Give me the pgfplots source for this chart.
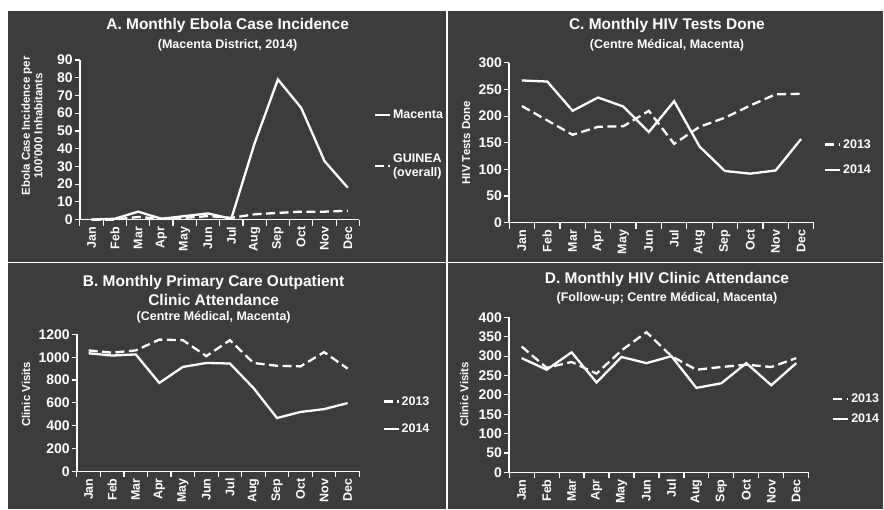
\documentclass[border=0pt]{standalone}
\usepackage{fontspec}
\setmainfont{Liberation Sans}
\usepackage{pgfplots}
\pgfplotsset{compat=1.18}
\definecolor{board}{HTML}{3C3C3C}

\pgfplotsset{
  panel/.style={
    scale only axis,
    axis lines*=left,
    axis line style={white, line width=1.4pt, -},
    xmin=0.5, xmax=12.5, ymin=0,
    xtick={1,...,12},
    xticklabels={Jan,Feb,Mar,Apr,May,Jun,Jul,Aug,Sep,Oct,Nov,Dec},
    minor xtick={0.5,1.5,...,12.5},
    major x tick style={draw=none},
    minor x tick style={white, line width=1.2pt},
    y tick style={white, line width=1.2pt},
    tick align=outside,
    major tick length=5pt, minor tick length=6pt,
    x tick label style={rotate=90, anchor=east, inner sep=2pt, font=\bfseries\fontsize{12.5}{13}\selectfont},
    y tick label style={inner sep=2pt, font=\bfseries\fontsize{14}{14}\selectfont},
    tick label style={white},
    /pgf/number format/assume math mode=true,
    /pgf/number format/1000 sep={},
    clip=false,
    legend style={draw=none, fill=none, text=white, anchor=west,
      font=\bfseries\fontsize{12.5}{14}\selectfont, row sep=6pt,
      cells={anchor=west, align=center}},
    legend image code/.code={\draw[##1] (0pt,0pt) -- (15pt,0pt);},
  },
  s13/.style={white, line width=2.3pt, dash pattern=on 9pt off 4.5pt},
  s14/.style={white, line width=2.3pt},
}

\begin{document}
\begin{tikzpicture}
\fill[white] (0pt,0pt) rectangle (884pt,510pt);
\fill[board] (8pt,0pt) rectangle (884pt,499pt);
\draw[white, line width=1.6pt] (448pt,0pt) -- (448pt,499pt);
\draw[white, line width=1.6pt] (8pt,247pt) -- (884pt,247pt);

% A
\node[white, font=\bfseries\fontsize{15.5}{17}\selectfont] at (228pt,484pt) {A. Monthly Ebola Case Incidence};
\node[white, font=\bfseries\fontsize{12.5}{14}\selectfont] at (228pt,465pt) {(Macenta District, 2014)};
\node[white, rotate=90, align=center, font=\bfseries\fontsize{11.5}{12.5}\selectfont] at (32pt,384pt) {Ebola Case Incidence per\\100'000 Inhabitants};
\begin{axis}[panel, at={(80pt,290pt)}, width=280pt, height=160pt, ymax=90, ytick={0,10,...,90},
  legend style={at={(1.04,0.475)}, row sep=30pt}]
\addplot[s14] coordinates {(1,0) (2,0.5) (3,4.5) (4,0.5) (5,2) (6,3.5) (7,0.5) (8,43) (9,79) (10,63) (11,33) (12,18)};
\addlegendentry{Macenta}
\addplot[s13] coordinates {(1,0) (2,0) (3,1.5) (4,0.5) (5,1) (6,2) (7,1) (8,3) (9,3.8) (10,4.5) (11,4.5) (12,5)};
\addlegendentry{GUINEA\\(overall)}
\end{axis}

% C
\node[white, font=\bfseries\fontsize{15.5}{17}\selectfont] at (668pt,484pt) {C. Monthly HIV Tests Done};
\node[white, font=\bfseries\fontsize{12.5}{14}\selectfont] at (668pt,465pt) {(Centre Médical, Macenta)};
\node[white, rotate=90, font=\bfseries\fontsize{11.5}{12.5}\selectfont] at (467pt,367pt) {HIV Tests Done};
\begin{axis}[panel, at={(510pt,287pt)}, width=305pt, height=160pt, ymax=300, ytick={0,50,...,300},
  legend style={at={(1.023,0.41)}, row sep=11pt}]
\addplot[s13] coordinates {(1,219) (2,192) (3,165) (4,180) (5,181) (6,210) (7,148) (8,180) (9,197) (10,220) (11,241) (12,242)};
\addlegendentry{2013}
\addplot[s14] coordinates {(1,267) (2,265) (3,210) (4,235) (5,218) (6,170) (7,228) (8,143) (9,97) (10,92) (11,98) (12,157)};
\addlegendentry{2014}
\end{axis}

% B
\node[white, align=center, font=\bfseries\fontsize{15.5}{19}\selectfont] at (214pt,219pt) {B. Monthly Primary Care Outpatient\\Clinic Attendance};
\node[white, font=\bfseries\fontsize{12.5}{14}\selectfont] at (214pt,192pt) {(Centre Médical, Macenta)};
\node[white, rotate=90, font=\bfseries\fontsize{11.5}{12.5}\selectfont] at (26pt,115pt) {Clinic Visits};
\begin{axis}[panel, at={(77pt,38pt)}, width=283pt, height=137pt, ymax=1200, ytick={0,200,...,1200},
  legend style={at={(1.07,0.41)}, row sep=13pt}]
\addplot[s13] coordinates {(1,1060) (2,1040) (3,1060) (4,1155) (5,1150) (6,1010) (7,1150) (8,950) (9,925) (10,920) (11,1045) (12,900)};
\addlegendentry{2013}
\addplot[s14] coordinates {(1,1035) (2,1015) (3,1025) (4,775) (5,915) (6,950) (7,945) (8,730) (9,467) (10,520) (11,545) (12,598)};
\addlegendentry{2014}
\end{axis}

% D
\node[white, font=\bfseries\fontsize{15.5}{17}\selectfont] at (668pt,230pt) {D. Monthly HIV Clinic Attendance};
\node[white, font=\bfseries\fontsize{12.5}{14}\selectfont] at (668pt,211pt) {(Follow-up; Centre Médical, Macenta)};
\node[white, rotate=90, font=\bfseries\fontsize{11.5}{12.5}\selectfont] at (465pt,115pt) {Clinic Visits};
\begin{axis}[panel, at={(510pt,37pt)}, width=300pt, height=155pt, ymax=400, ytick={0,50,...,400},
  legend style={at={(1.067,0.41)}, row sep=6pt}]
\addplot[s13] coordinates {(1,325) (2,270) (3,285) (4,255) (5,315) (6,362) (7,300) (8,265) (9,272) (10,278) (11,272) (12,295)};
\addlegendentry{2013}
\addplot[s14] coordinates {(1,295) (2,265) (3,310) (4,232) (5,298) (6,282) (7,300) (8,218) (9,230) (10,282) (11,225) (12,282)};
\addlegendentry{2014}
\end{axis}
\end{tikzpicture}
\end{document}
